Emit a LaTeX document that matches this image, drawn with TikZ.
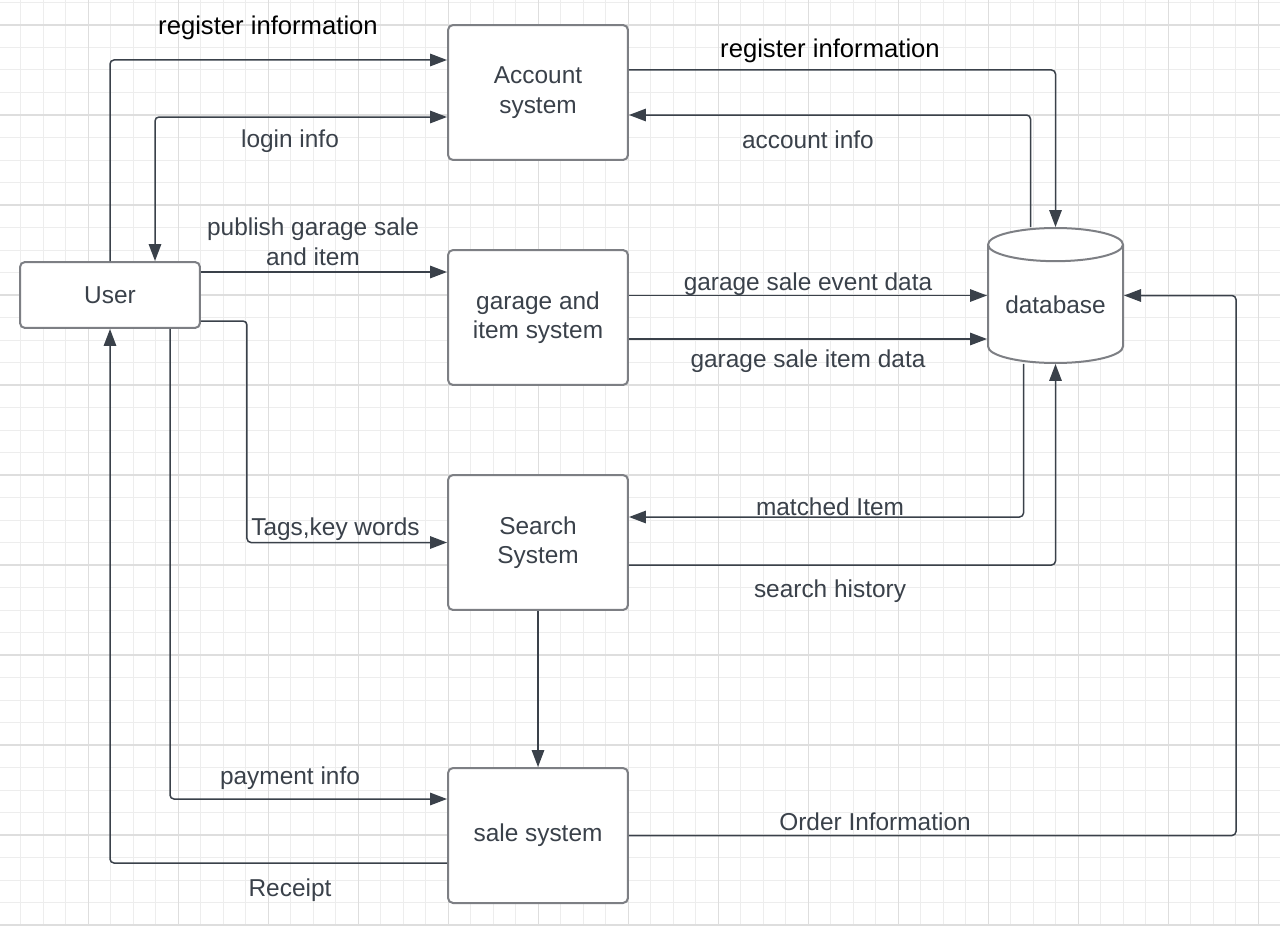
\documentclass[tikz,border=0pt]{standalone}
\usepackage{fontspec}
\setmainfont{Liberation Sans}
\usetikzlibrary{arrows.meta,calc,shapes.geometric}
\tikzset{
  >={Triangle[length=0.34cm,width=0.25cm]},
  sys-box/.style={
    draw=boxgray, fill=white, line width=0.04cm,
    rounded corners=0.1cm, inner sep=0pt,
    minimum width=3.6cm, minimum height=2.7cm,
    align=center, text=ink,
    font=\fontsize{13.9pt}{16.8pt}\selectfont
  },
  user-box/.style={sys-box, minimum height=1.32cm},
  db-shape/.style={sys-box, sharp corners, cylinder, shape border rotate=90,
    aspect=0.33, minimum width=2.7cm, minimum height=2.7cm},
  flow/.style={->, draw=ink, line width=0.03cm, rounded corners=0.08cm},
  flow-label/.style={text=ink, inner sep=0pt, align=center, font=\fontsize{13.9pt}{16.8pt}\selectfont},
  flow-label-black/.style={flow-label, text=black, font=\fontsize{14.6pt}{17.5pt}\selectfont},
  grid-minor/.style={draw=gridminor, line width=0.02cm},
  grid-major/.style={draw=gridmajor, line width=0.025cm}
}
\definecolor{ink}{RGB}{58,65,74}
\definecolor{boxgray}{RGB}{125,127,132}
\definecolor{gridminor}{RGB}{237,237,237}
\definecolor{gridmajor}{RGB}{222,222,222}
\newcommand{\gridpaper}{
  \useasboundingbox (0,0) rectangle (1280,926);
  \fill[white] (0,0) rectangle (1280,926);
  \foreach \i in {0,...,57} \draw[grid-minor] ({-1.7+22.5*\i},0) -- ++(0,926);
  \foreach \j in {0,...,41} \draw[grid-minor] (0,{2.5+22.5*\j}) -- ++(1280,0);
  \foreach \i in {0,...,14} \draw[grid-major] ({-1.7+90*\i},0) -- ++(0,926);
  \foreach \j in {0,...,10} \draw[grid-major] (0,{25+90*\j}) -- ++(1280,0);
}

\begin{document}
\begin{tikzpicture}[x=0.02cm, y=-0.02cm]
  \gridpaper
  % Systems
  \node[user-box] (user) at (110,295) {User};
  \node[sys-box] (account) at (538,92.5) {Account\\system};
  \node[sys-box] (garage) at (538,317.5) {garage and\\item system};
  \node[sys-box] (search) at (538,542.5) {Search\\System};
  \node[sys-box] (sale) at (538,835.5) {sale system};
  \node[db-shape, anchor=shape center] (db) at (1055.5,295.5) {database};
  % Account system
  \draw[flow] (user.north) |- ($(account.west)+(0,-32.5)$);
  \draw[flow,<->] ($(account.west)+(0,24.5)$) -| ($(user.north)+(45,0)$);
  \draw[flow] ($(account.east)+(0,-22.5)$) -| (db.north);
  \draw[flow] ($(db.north)+(-25,0)$) |- ($(account.east)+(0,22.5)$);
  % Garage and item system
  \draw[flow] ($(user.east)+(0,-23)$) -- ($(garage.west)+(0,-45.5)$);
  \draw[flow] (garage.east |- db.shape center) -- (db.west |- db.shape center);
  \coordinate (item-out) at ($(garage.east)+(0,21.5)$);
  \draw[flow] (item-out) -- (item-out -| db.west);
  % Search system
  \draw[flow] ($(user.east)+(0,26)$) -- ++(46,0) |- (search.west);
  \draw[flow] ($(db.south)+(-32,0)$) |- ($(search.east)+(0,-25.5)$);
  \draw[flow] ($(search.east)+(0,22.5)$) -| (db.south);
  \draw[flow] (search.south) -- (sale.north);
  % Sale system
  \draw[flow] ($(user.south)+(60,0)$) |- ($(sale.west)+(0,-36.5)$);
  \draw[flow] ($(sale.west)+(0,27.5)$) -| (user.south);
  \draw[flow] (sale.east) -- ++(607,0) |- (db.east |- db.shape center);
  % Labels
  \node[flow-label-black] (reg-user) at (268,27.5) {register information};
  \node[flow-label] (login) at (290,141) {login info};
  \node[flow-label-black] (reg-db) at (830,51) {register information};
  \node[flow-label] (acc-info) at (808,139.5) {account info};
  \node[flow-label] (publish) at (313,242) {publish garage sale\\and item};
  \node[flow-label] (event-data) at (808,284) {garage sale event data};
  \node[flow-label] (item-data) at (808,361) {garage sale item data};
  \node[flow-label] (tags) at (335.5,529) {Tags,key words};
  \node[flow-label] (matched) at (830,507) {matched Item};
  \node[flow-label] (history) at (830,591) {search history};
  \node[flow-label] (payment) at (290,778) {payment info};
  \node[flow-label] (receipt) at (290,890) {Receipt};
  \node[flow-label] (order) at (875,822) {Order Information};
\end{tikzpicture}
\end{document}
